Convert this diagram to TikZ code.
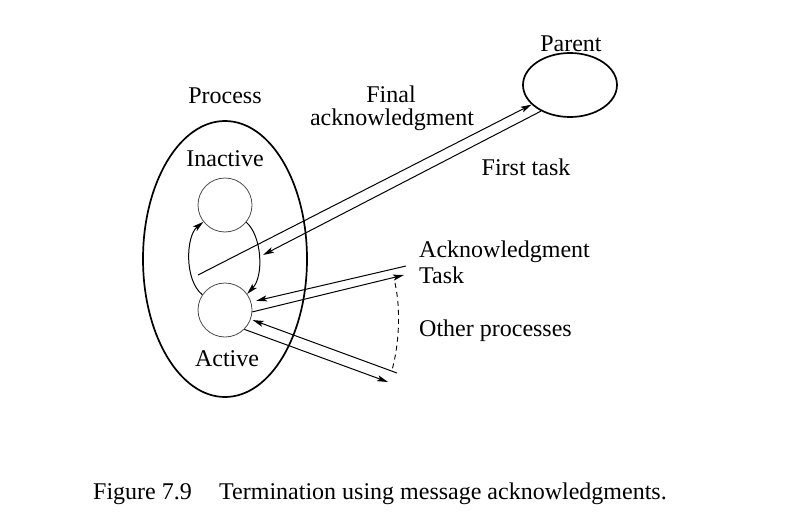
\documentclass[tikz,border=0pt]{standalone}
\usepackage{fontspec}
\setmainfont{Liberation Serif}
\usetikzlibrary{shapes.geometric,arrows.meta}
\begin{document}
\begin{tikzpicture}[x=1pt,y=-1pt,
  lbl/.style={font=\fontsize{24}{24}\selectfont, inner sep=0pt},
  bigell/.style={draw, line width=1.7pt, ellipse, inner sep=0pt},
  state/.style={draw=black!70, line width=0.8pt, circle, minimum size=54pt, inner sep=0pt},
  msg/.style={line width=1pt, -{Stealth[length=11pt,width=6pt,inset=2.5pt]}},
  dashline/.style={line width=0.9pt, dash pattern=on 5pt off 4pt}]
\useasboundingbox (0,0) rectangle (792,527);
% shapes
\node[bigell, minimum width=164pt, minimum height=276pt] (proc) at (225,259) {};
\node[bigell, minimum width=94pt, minimum height=64pt] (parent) at (570,85) {};
\node[state] (inactive) at (225,205) {};
\node[state] (active) at (225,310) {};
% labels
\node[lbl, anchor=base] (tproc) at (225,103) {Process};
\node[lbl, anchor=base] (tinact) at (225,166) {Inactive};
\node[lbl, anchor=base] (tact) at (227,366) {Active};
\node[lbl, anchor=base] (tpar) at (571,52) {Parent};
\node[lbl, anchor=base] (tfinal) at (391,102) {Final};
\node[lbl, anchor=base] (tfack) at (392,125) {acknowledgment};
\node[lbl, anchor=base] (tfirst) at (526,175) {First task};
\node[lbl, anchor=base west] (tack) at (419,257) {Acknowledgment};
\node[lbl, anchor=base west] (ttask) at (419,283) {Task};
\node[lbl, anchor=base west] (tother) at (419,336) {Other processes};
\node[lbl, anchor=base west] (tfig) at (93,499) {Figure 7.9};
\node[lbl, anchor=base west] (tcap) at (219,499) {Termination using message acknowledgments.};
% free ends
\coordinate (fa) at (198,275);
\coordinate (ft) at (263,255);
\coordinate (ack) at (406,266);
\coordinate (task) at (404,275);
\coordinate (oin) at (397,373);
\coordinate (oout) at (388,382);
\coordinate (da) at (395,283);
\coordinate (db) at (392,370);
% loop
\draw[msg] (active.146) .. controls (184,280) and (186,236) .. (inactive.218);
\draw[msg] (inactive.-39) .. controls (262,236) and (264,276) .. (active.36);
% parent messages
\draw[msg] (fa) -- (parent.207);
\draw[msg] (parent.222) -- (ft);
% other processes
\draw[msg, shorten >=5pt] (ack) -- (active.17);
\draw[msg] (active.-4) -- (task);
\draw[msg, shorten >=2pt] (oin) -- (active.-20);
\draw[msg] (active.-45) -- (oout);
\draw[dashline] (da) .. controls (401,310) and (399,345) .. (db);
\end{tikzpicture}
\end{document}
